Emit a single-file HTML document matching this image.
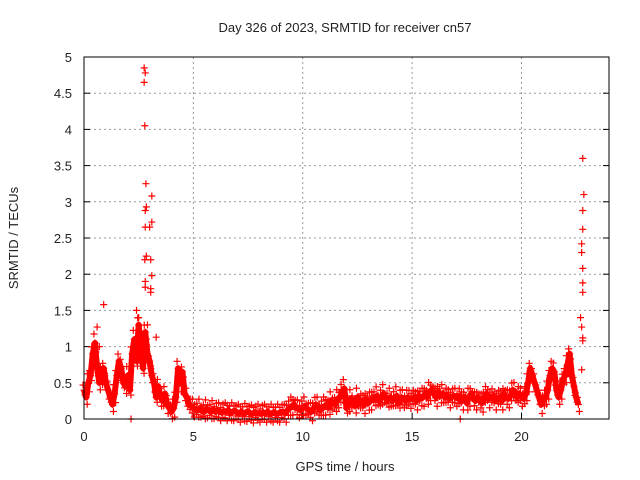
<!DOCTYPE html>
<html><head><meta charset="utf-8"><style>
body{margin:0;background:#fff}
svg{display:block;font-family:"Liberation Sans",sans-serif;font-size:13px;fill:#222}
</style></head><body>
<svg id="chart" width="640" height="480">
<text x="345" y="32" text-anchor="middle">Day 326 of 2023, SRMTID for receiver cn57</text>
<text x="0" y="0" transform="translate(18,238) rotate(-90)" text-anchor="middle">SRMTID / TECUs</text>
<text x="345" y="471" text-anchor="middle">GPS time / hours</text>
<g id="grid"></g><g id="ticks"></g><g id="band"></g><g id="marks"></g>
<rect x="84" y="57" width="525" height="362" fill="none" stroke="#000" stroke-width="1"/>
</svg>
<script>
const xTicks=[0,5,10,15,20];
const yTicks=[0,0.5,1,1.5,2,2.5,3,3.5,4,4.5,5];
const yTickLabels=["0","0.5","1","1.5","2","2.5","3","3.5","4","4.5","5"];
const seriesStart=0, seriesStep=0.1;
const seriesValues=[
0.4,0.3,0.5,0.6,0.9,1.05,0.7,0.5,0.6,0.7,
0.5,0.4,0.3,0.2,0.35,0.6,0.8,0.7,0.5,0.45,
0.6,0.4,0.9,1.1,0.8,1.3,1.0,0.7,1.2,0.9,
0.8,0.6,0.5,0.3,0.45,0.3,0.25,0.35,0.2,0.15,
0.1,0.15,0.3,0.7,0.5,0.65,0.35,0.3,0.2,0.18,
0.15,0.13,0.12,0.15,0.11,0.1,0.14,0.12,0.1,0.13,
0.1,0.12,0.1,0.09,0.11,0.1,0.12,0.08,0.1,0.11,
0.09,0.08,0.1,0.07,0.09,0.1,0.08,0.07,0.09,0.08,
0.08,0.07,0.09,0.08,0.1,0.07,0.08,0.09,0.07,0.08,
0.09,0.1,0.08,0.12,0.15,0.18,0.2,0.16,0.14,0.12,
0.15,0.18,0.14,0.12,0.1,0.15,0.2,0.18,0.12,0.15,
0.18,0.2,0.16,0.25,0.22,0.2,0.28,0.3,0.38,0.42,
0.15,0.2,0.28,0.25,0.18,0.3,0.22,0.25,0.2,0.28,
0.22,0.25,0.3,0.28,0.32,0.25,0.3,0.35,0.28,0.26,
0.3,0.25,0.28,0.32,0.22,0.3,0.28,0.25,0.3,0.27,
0.28,0.3,0.25,0.32,0.28,0.3,0.35,0.3,0.38,0.4,
0.35,0.3,0.38,0.32,0.35,0.3,0.33,0.28,0.3,0.32,
0.3,0.28,0.32,0.25,0.3,0.22,0.3,0.35,0.28,0.25,
0.3,0.25,0.22,0.3,0.35,0.28,0.3,0.32,0.25,0.28,
0.3,0.25,0.35,0.3,0.28,0.32,0.4,0.38,0.3,0.35,
0.3,0.28,0.35,0.5,0.7,0.6,0.5,0.4,0.3,0.2,
0.25,0.3,0.4,0.6,0.7,0.65,0.4,0.3,0.4,0.55,
0.6,0.75,0.9,0.6,0.45,0.3,0.2];
const spikeTimes=[2.75,2.8,2.75,2.78,2.83,3.1,2.85,2.8,3.1,2.8,3.0,2.85,2.78,3.05,3.1,2.8,2.8,3.05,3.05,0.9,0.6,2.4,2.15,17.2,22.8,22.85,22.8,22.8,22.75,22.75,22.8,22.8,22.8,22.7,22.75,22.8,22.8,22.75,0.5,0.7,2.5,2.6,2.9,3.3];
const spikeValues=[4.85,4.78,4.65,4.05,3.25,3.08,2.93,2.88,2.72,2.65,2.65,2.25,2.2,2.2,1.98,1.9,1.82,1.8,1.75,1.58,1.27,1.5,0.0,0.0,3.6,3.1,2.88,2.62,2.42,2.3,2.08,1.88,1.75,1.4,1.27,1.12,1.08,0.68,0.9,1.0,1.4,1.2,1.3,1.13];
const X=t=>84+t*(525/24), Y=v=>419-v*(362/5);
const NS="http://www.w3.org/2000/svg";
function mk(tag,attrs,parent){const e=document.createElementNS(NS,tag);for(const k in attrs)e.setAttribute(k,attrs[k]);document.getElementById(parent).appendChild(e);return e;}
xTicks.forEach(t=>{
  if(t>0){const g=mk('line',{x1:X(t),x2:X(t),y1:57,y2:419,stroke:'#999','stroke-dasharray':'2,3'},'grid');
  
  }
  const l=mk('text',{x:X(t),y:441,'text-anchor':'middle'},'ticks');l.textContent=t;
  
  
  mk('line',{x1:X(t),x2:X(t),y1:419,y2:413,stroke:'#000'},'ticks');
});
yTicks.forEach((v,i)=>{
  if(v>0&&v<5){const g=mk('line',{x1:84,x2:609,y1:Y(v),y2:Y(v),stroke:'#999','stroke-dasharray':'2,3'},'grid');
  
  }
  const l=mk('text',{x:72,y:Y(v)+5,'text-anchor':'end'},'ticks');l.textContent=yTickLabels[i];
  
  
  mk('line',{x1:84,x2:90,y1:Y(v),y2:Y(v),stroke:'#000'},'ticks');
  mk('line',{x1:609,x2:603,y1:Y(v),y2:Y(v),stroke:'#000'},'ticks');
});
const pts=seriesValues.map((v,i)=>[X(seriesStart+i*seriesStep),Y(v)]);
const band=mk('polyline',{points:pts.map(p=>p.join(',')).join(' '),fill:'none',stroke:'#f00','stroke-width':6,'stroke-linejoin':'round'},'band');


function cross(x,y){const p=mk('path',{d:`M${x-3.5},${y}h7M${x},${y-3.5}v7`,stroke:'#f00','stroke-width':1.2,fill:'none'},'marks');

}
pts.forEach((p,i)=>{const o=(i%3)*2;cross(p[0]-1,p[1]-5-o);cross(p[0]+1,p[1]+5+o);cross(p[0],p[1]);});
spikeTimes.forEach((t,i)=>cross(X(t),Y(spikeValues[i])));
</script>
</body></html>
